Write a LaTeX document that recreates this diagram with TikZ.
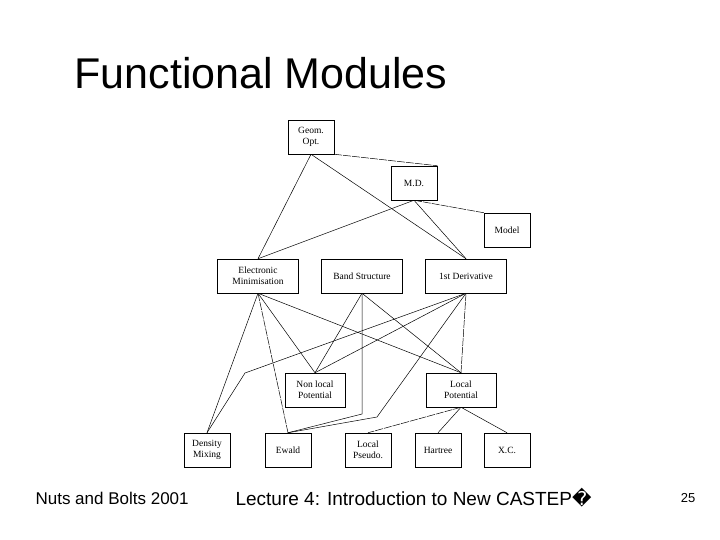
\documentclass[tikz,border=0pt]{standalone}
\usepackage{fontspec}
\setmainfont{Liberation Sans}
\newfontfamily\diagfont{Liberation Serif}
\newfontfamily\symfont{DejaVu Sans}
\usetikzlibrary{positioning}

\begin{document}
\begin{tikzpicture}[
        x=1pt, y=-1pt,
        line width=0.5pt,
        mod/.style={rectangle, draw, fill=white, minimum width=46pt, minimum height=34pt, align=center, font=\diagfont\fontsize{9.5}{11}\selectfont, inner sep=1pt},
        wide/.style={mod, minimum width=81pt},
        link/.style={draw, line width=0.5pt},
        dlink/.style={link, dash pattern=on 8pt off 1pt}
    ]
        \useasboundingbox (0,0) rectangle (720,540);

        % Title and footer
        \node[anchor=west, font=\fontsize{43}{46}\selectfont] (title) at (71,73) {Functional Modules};
        \node[anchor=west, font=\fontsize{17}{19}\selectfont] (course) at (32,498) {Nuts and Bolts 2001};
        \node[anchor=west, font=\fontsize{19}{21}\selectfont] (lecture) at (232,498) {Lecture 4: Introduction to New CASTEP{\symfont ^^^^fffd}};
        \node[font=\fontsize{13}{15}\selectfont] (page) at (688,498) {25};

        % Bend points
        \coordinate (bsbend) at (362,414);
        \coordinate (fdbend) at (377,417);
        \coordinate (dmbend) at (245,373);

        % Top level modules
        \node[mod] (geom) at (311,137) {Geom.\\Opt.};
        \node[mod] (md) at (414,183) {M.D.};
        \node[mod] (model) at (507,230) {Model};

        % Middle level modules
        \node[wide] (elec) at (258,276) {Electronic\\Minimisation};
        \node[wide] (band) at (362,276) {Band Structure};
        \node[wide] (deriv) at (466,276) {1st Derivative};

        % Potentials
        \node[mod, minimum width=60pt] (nonlocal) at (315,390) {Non local\\Potential};
        \node[mod, minimum width=70pt] (local) at (461,390) {Local\\Potential};

        % Bottom modules
        \node[mod] (mixing) at (207,450) {Density\\Mixing};
        \node[mod] (ewald) at (288,450) {Ewald};
        \node[mod] (pseudo) at (368,450) {Local\\Pseudo.};
        \node[mod] (hartree) at (438,450) {Hartree};
        \node[mod] (xc) at (507,450) {X.C.};

        % Upper links
        \draw[link] (geom.south) -- (elec.north);
        \draw[link] (geom.south) -- (deriv.north);
        \draw[dlink] (geom.south east) -- (md.north east);
        \draw[link] (md.south) -- (elec.north);
        \draw[link] (md.south) -- (deriv.north);
        \draw[dlink] (md.south) -- (model.north west);

        % Lower links
        \draw[link] (elec.south) -- (mixing.north);
        \draw[dlink] (elec.south) -- (ewald.north);
        \draw[link] (elec.south) -- (nonlocal.north);
        \draw[link] (elec.south) -- (local.north);
        \draw[link] (band.south) -- (nonlocal.north);
        \draw[link] (band.south) -- (local.north);
        \draw[link] (band.south) -- (bsbend) -- (ewald.north);
        \draw[link] (deriv.south) -- (nonlocal.north);
        \draw[link] (deriv.south) -- (dmbend) -- (mixing.north);
        \draw[dlink] (deriv.south) -- (local.north);
        \draw[link] (deriv.south) -- (fdbend) -- (ewald.north);
        \draw[dlink] (local.south) -- (pseudo.north);
        \draw[link] (local.south) -- (hartree.north);
        \draw[link] (local.south) -- (xc.north);
    \end{tikzpicture}
\end{document}
